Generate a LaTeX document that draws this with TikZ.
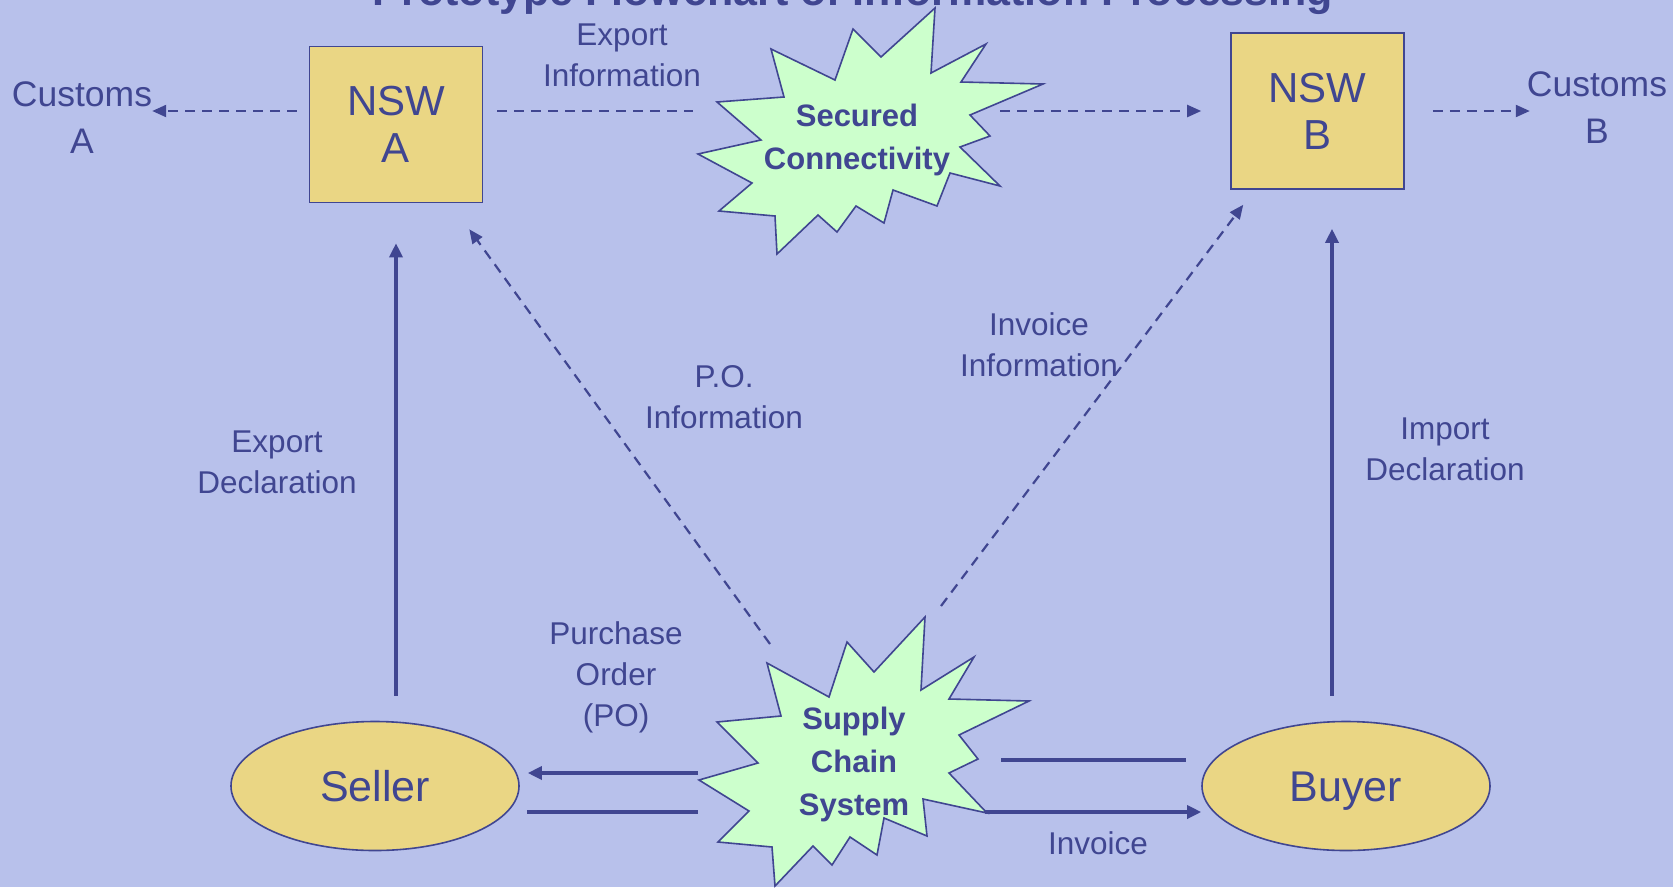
\documentclass[tikz,border=0pt]{standalone}
\usepackage{fontspec}
\setmainfont{Liberation Sans}
\usetikzlibrary{shapes.geometric,arrows.meta,calc}
\definecolor{bgc}{RGB}{184,193,235}
\definecolor{ink}{RGB}{64,70,145}
\definecolor{boxc}{RGB}{234,214,132}
\definecolor{starc}{RGB}{204,255,204}
\tikzset{
  nswbox/.style={rectangle,draw=ink,fill=boxc,line width=1.6pt,minimum width=173pt,minimum height=156pt,inner sep=0pt,text=ink,align=center,font=\fontsize{42}{47}\selectfont},
  party/.style={ellipse,draw=ink,fill=boxc,line width=1.6pt,minimum width=288pt,minimum height=129pt,inner sep=0pt,text=ink,text height=31pt,text depth=0pt,font=\fontsize{43}{48}\selectfont},
  lbl/.style={text=ink,align=center,inner sep=0pt,font=\fontsize{31.5}{41}\selectfont},
  custlbl/.style={text=ink,align=center,inner sep=0pt,font=\fontsize{35.5}{47}\selectfont},
  starlbl/.style={text=ink,align=center,inner sep=0pt,font=\bfseries\fontsize{31}{43}\selectfont},
  burst/.style={draw=ink,fill=starc,line width=1.6pt,line join=miter},
  dashline/.style={draw=ink,line width=2.2pt,dash pattern=on 10pt off 7pt},
  dasharrow/.style={dashline,-{Triangle[length=14pt,width=12pt]}},
  solidline/.style={draw=ink,line width=3.3pt},
  solidarrow/.style={solidline,-{Triangle[length=14pt,width=13pt]}}
}
\begin{document}
\begin{tikzpicture}[x=1pt,y=-1pt]
\useasboundingbox (0,0) rectangle (1673,887);
\fill[bgc] (0,0) rectangle (1673,887);
% title (cut off by page top, as in the reference)
\node[anchor=base,text=ink,font=\bfseries\fontsize{43}{46}\selectfont,inner sep=0pt] (title) at (853,5) {Prototype Flowchart of Information Processing};
% starbursts
\draw[burst] (935,8)--(931,73)--(986,44)--(961,82)--(1043,84)--(970,115)--(990,136)--(960,147)--(1000,186)--(950,173)--(937,206)--(893,190)--(884,223)--(856,206)--(837,232)--(818,215)--(777,254)--(775,216)--(719,211)--(752,183)--(698,154)--(761,140)--(717,102)--(784,97)--(771,49)--(835,80)--(853,29)--(881,57)--cycle;
\draw[burst] (925,617)--(921,690)--(974,657)--(949,699)--(1029,701)--(959,735)--(978,759)--(949,773)--(987,813)--(923,799)--(927,836)--(884,818)--(877,855)--(850,837)--(832,865)--(813,846)--(775,886)--(772,847)--(718,842)--(749,811)--(699,780)--(758,763)--(717,722)--(781,716)--(767,663)--(829,697)--(847,642)--(874,672)--cycle;
\node[starlbl] (secured) at (857,140) {Secured\\Connectivity};
\node[starlbl] (scs) at (854,764) {Supply\\Chain\\System};
% main nodes
\node[nswbox] (nswA) at (396,124.5) {NSW\\A};
\node[nswbox] (nswB) at (1317.5,111) {NSW\\B};
\node[party] (seller) at (375,786) {Seller};
\node[party] (buyer) at (1346,786) {Buyer};
\node[custlbl] (customsA) at (82,118) {Customs\\A};
\node[custlbl] (customsB) at (1597,108) {Customs\\B};
% labels
\node[lbl] (lexpinfo) at (622,55) {Export\\Information};
\node[lbl] (lpo) at (724,397) {P.O.\\Information};
\node[lbl] (linv) at (1039,345) {Invoice\\Information};
\node[lbl] (lexpdec) at (277,462) {Export\\Declaration};
\node[lbl] (limpdec) at (1445,449) {Import\\Declaration};
\node[lbl] (lpord) at (616,677) {Purchase\\Order\\(PO)};
\node[lbl] (linvoice) at (1098,843) {Invoice};
% connector end points on the starbursts
\coordinate (secW) at (693,111);
\coordinate (secE) at (1000,111);
\coordinate (scsNW) at (770,644);
\coordinate (scsNE) at (941,606);
\coordinate (scsW1) at (698,773);
\coordinate (scsW2) at (698,812);
\coordinate (scsE1) at (1001,760);
\coordinate (scsE2) at (985,812);
% connectors
\draw[dasharrow] ($(nswA.west)+(-12,-13.5)$) -- ($(customsA.east)+(0,-7)$);
\draw[dashline] ($(nswA.east)+(14,-13.5)$) -- (secW);
\draw[dasharrow] (secE) -- ($(nswB.west)+(-29,0)$);
\draw[dasharrow] ($(nswB.east)+(28,0)$) -- ($(customsB.west)+(3,3)$);
\draw[solidarrow] ($(nswA.south |- seller.north)+(0,-25)$) -- ($(nswA.south)+(0,40)$);
\draw[solidarrow] ($(nswB.south |- buyer.north)+(14.5,-25)$) -- ($(nswB.south)+(14.5,39)$);
\draw[dasharrow] (scsNW) -- ($(nswA.south east)+(-14,26)$);
\draw[dasharrow] (scsNE) -- ($(nswB.south west)+(13,15)$);
\draw[solidarrow] (scsW1) -- ($(seller.east)+(8,-13)$);
\draw[solidline] ($(seller.east)+(7,26)$) -- (scsW2);
\draw[solidline] (scsE1) -- ($(buyer.west)+(-15,-26)$);
\draw[solidarrow] (scsE2) -- ($(buyer.west)+(0,26)$);
\end{tikzpicture}
\end{document}
